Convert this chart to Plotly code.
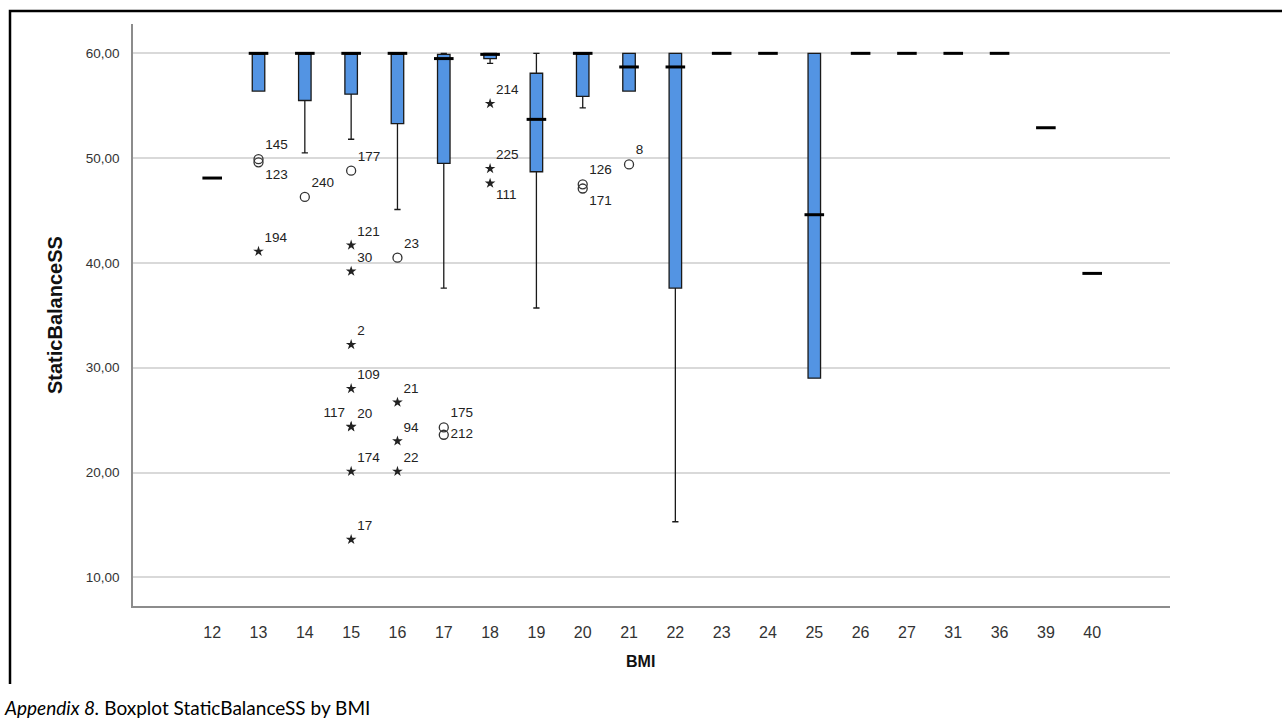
import plotly.graph_objects as go

# ---------------- data ----------------
bmi = ["12", "13", "14", "15", "16", "17", "18", "19", "20", "21",
       "22", "23", "24", "25", "26", "27", "31", "36", "39", "40"]
q1 =        [48.1, 56.4, 55.5, 56.1, 53.3, 49.5, 59.5, 48.7, 55.9, 56.4,
             37.6, 60.0, 60.0, 29.0, 60.0, 60.0, 60.0, 60.0, 52.9, 39.0]
median =    [48.1, 60.0, 60.0, 60.0, 60.0, 59.5, 59.9, 53.7, 60.0, 58.7,
             58.7, 60.0, 60.0, 44.6, 60.0, 60.0, 60.0, 60.0, 52.9, 39.0]
q3 =        [48.1, 60.0, 60.0, 60.0, 60.0, 59.9, 60.0, 58.1, 60.0, 60.0,
             60.0, 60.0, 60.0, 60.0, 60.0, 60.0, 60.0, 60.0, 52.9, 39.0]
lower_w =   [48.1, 56.4, 50.5, 51.8, 45.1, 37.6, 59.05, 35.7, 54.8, 56.4,
             15.3, 60.0, 60.0, 29.0, 60.0, 60.0, 60.0, 60.0, 52.9, 39.0]
upper_w =   [48.1, 60.0, 60.0, 60.0, 60.0, 60.0, 60.0, 60.0, 60.0, 60.0,
             60.0, 60.0, 60.0, 60.0, 60.0, 60.0, 60.0, 60.0, 52.9, 39.0]

# outliers (circles) : BMI, value, case label, label position
out_bmi =   ["13", "13", "14", "15", "16", "17", "17", "20", "20", "21"]
out_val =   [49.9, 49.6, 46.3, 48.8, 40.5, 24.3, 23.6, 47.5, 47.1, 49.4]
out_lab =   ["145", "123", "240", "177", "23", "175", "212", "126", "171", "8"]
out_pos =   ["top right", "bottom right", "top right", "top right", "top right",
             "top right", "middle right", "top right", "bottom right", "top right"]

# extremes (stars)
ext_bmi =   ["13", "15", "15", "15", "15", "15", "15", "15", "15",
             "16", "16", "16", "18", "18", "18"]
ext_val =   [41.1, 41.7, 39.2, 32.2, 28.0, 24.4, 24.35, 20.1, 13.6,
             26.7, 23.0, 20.1, 55.2, 49.0, 47.6]
ext_lab =   ["194", "121", "30", "2", "109", "117", "20", "174", "17",
             "21", "94", "22", "214", "225", "111"]
ext_pos =   ["top right", "top right", "top right", "top right", "top right",
             "top left", "top right", "top right", "top right",
             "top right", "top right", "top right", "top right", "top right",
             "bottom right"]

y_ticks = [10, 20, 30, 40, 50, 60]
y_tick_text = ["10,00", "20,00", "30,00", "40,00", "50,00", "60,00"]

# ---------------- figure ----------------
fig = go.Figure()

fig.add_trace(go.Box(
    x=bmi, q1=q1, median=median, q3=q3,
    lowerfence=lower_w, upperfence=upper_w,
    boxpoints=False, width=0.27, whiskerwidth=0.5,
    fillcolor="#5394e3", line=dict(color="#1a1a1a", width=1.3),
    hoverinfo="skip", showlegend=False,
))

# thick median bars
fig.add_trace(go.Scatter(
    x=bmi, y=median, mode="markers",
    marker=dict(symbol="line-ew", size=14, line=dict(color="#000000", width=3)),
    hoverinfo="skip", showlegend=False,
))

label_font = dict(family="Liberation Sans, Arial, sans-serif", size=13.5, color="#222222")

fig.add_trace(go.Scatter(
    x=out_bmi, y=out_val, mode="markers+text",
    text=out_lab, textposition=out_pos, textfont=label_font,
    marker=dict(symbol="circle-open", size=9, color="#333333",
                line=dict(width=1.3, color="#333333")),
    hoverinfo="skip", showlegend=False, cliponaxis=False,
))

fig.add_trace(go.Scatter(
    x=ext_bmi, y=ext_val, mode="markers+text",
    text=ext_lab, textposition=ext_pos, textfont=label_font,
    marker=dict(symbol="star", size=8, color="#222222",
                line=dict(width=0)),
    hoverinfo="skip", showlegend=False, cliponaxis=False,
))

L, R, T, B = 133, 112, 24, 112
W, H = 1282, 718
pw = W - L - R
ph = H - T - B

def px_x(px):
    return (px - L) / pw

def px_y(py):
    return (H - B - py) / ph

fig.update_layout(
    width=W, height=H,
    margin=dict(l=L, r=R, t=T, b=B),
    paper_bgcolor="white", plot_bgcolor="white",
    xaxis=dict(
        type="category", categoryorder="array", categoryarray=bmi,
        range=[-1.71, 20.68],
        showgrid=False, showline=True, linecolor="#8c8c8c", linewidth=1.5,
        ticks="", ticklabelstandoff=11,
        tickfont=dict(family="Liberation Sans Narrow, Arial Narrow, Liberation Sans, sans-serif",
                      size=16, color="#333333"),
        zeroline=False,
    ),
    yaxis=dict(
        range=[7.26, 62.8],
        tickvals=y_ticks, ticktext=y_tick_text,
        showgrid=True, gridcolor="#d9d9d9", gridwidth=1.5,
        showline=True, linecolor="#8c8c8c", linewidth=1.5,
        ticks="", ticklabelstandoff=9,
        tickfont=dict(family="Liberation Sans, Arial, sans-serif", size=13.5, color="#333333"),
        zeroline=False,
    ),
    annotations=[
        dict(text="<b>StaticBalanceSS</b>", x=px_x(55), y=px_y(315),
             xref="paper", yref="paper", showarrow=False, textangle=-90,
             font=dict(family="Liberation Sans, Arial, sans-serif", size=20, color="#111111"),
             xanchor="center", yanchor="middle"),
        dict(text="<b>BMI</b>", x=px_x(640), y=px_y(661),
             xref="paper", yref="paper", showarrow=False,
             font=dict(family="Liberation Sans, Arial, sans-serif", size=16, color="#111111"),
             xanchor="center", yanchor="middle"),
        dict(text="<i>Appendix 8.</i> Boxplot StaticBalanceSS by BMI", x=px_x(2), y=px_y(707),
             xref="paper", yref="paper", showarrow=False,
             font=dict(family="Lato, Open Sans, sans-serif", size=19, color="#000000"),
             xanchor="left", yanchor="middle"),
    ],
    shapes=[
        dict(type="path", xref="paper", yref="paper",
             path=f"M {px_x(10)},{px_y(684)} L {px_x(10)},{px_y(11)} L {px_x(1290)},{px_y(11)}",
             line=dict(color="#000000", width=2.5)),
    ],
)

fig.write_html(
    "out.html",
    config={"displayModeBar": False},
    post_script="document.body.style.margin='0px';document.body.style.overflow='hidden';",
)
